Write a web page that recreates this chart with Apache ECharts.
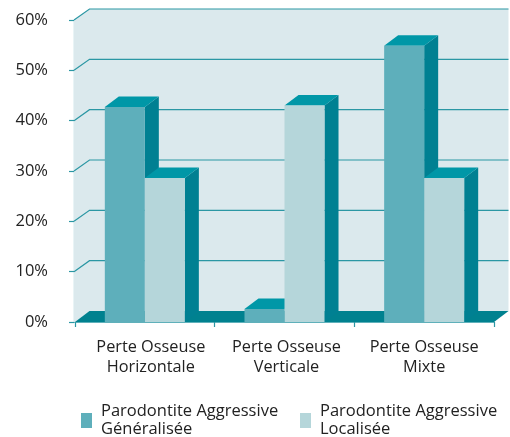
<!DOCTYPE html>
<html><head><meta charset="utf-8">
<style>html,body{margin:0;padding:0;background:#fff}#c{width:510px;height:437px}</style>
<script src="https://cdn.jsdelivr.net/npm/echarts@6/dist/echarts.min.js"></script>
</head><body><div id="c"></div>
<script>
var categories = ['Perte Osseuse\nHorizontale', 'Perte Osseuse\nVerticale', 'Perte Osseuse\nMixte'];
var seriesNames = ['Parodontite Aggressive\nGénéralisée', 'Parodontite Aggressive\nLocalisée'];
var generalisee = [42.7, 2.6, 54.9];
var localisee = [28.6, 43, 28.6];
var yTicks = [0, 10, 20, 30, 40, 50, 60];

var FONT = '"Open Sans","Noto Sans",sans-serif';
var TXT = '#222222';
var LINE = '#2b97a4';
var DX = 14, DY = 10.5;      // bar depth
var WX = 14.5, WY = 11;      // wall depth
var BAR = 0.2865;            // bar width as a share of the category band
var labelPad = [12, 4, 0];   // nudges the category labels to the right

function wallRender(params, api) {
  var g = params.coordSys;
  var v = api.value(1);
  var y = api.coord([0, v])[1];
  var l = g.x - 1, r = g.x + g.width;
  var kids = [];
  if (params.dataIndex === 0) {
    var top = g.y, bot = g.y + g.height;
    kids.push({type:'polygon', shape:{points:[[l,top],[l+WX+1,top-WY],[r+WX,top-WY],[r+WX,bot-WY],[r,bot],[l,bot]]},
      style:{fill:'#dbe9ed'}});
    kids.push({type:'polygon', shape:{points:[[l+1,bot],[l+WX+1,bot-WY],[r+WX,bot-WY],[r,bot]]},
      style:{fill:'#00818f'}});
  } else {
    kids.push({type:'polyline', shape:{points:[[l,y],[l+WX+1,y-WY],[r+WX,y-WY]]},
      style:{fill:null, stroke:LINE, lineWidth:1.2}});
  }
  return {type:'group', children:kids};
}

function barRender(slot, front) {
  return function (params, api) {
    var c = api.value(0), v = api.value(1);
    var base = api.coord([c, 0]);
    var top = api.coord([c, v]);
    var w = api.size([1, 0])[0] * BAR;
    var x0 = base[0] + (slot === 0 ? -w : 0);
    var x1 = x0 + w;
    var yt = top[1], yb = base[1];
    return {type:'group', children:[
      {type:'polygon', shape:{points:[[x1,yb],[x1+DX,yb-DY],[x1+DX,yt-DY],[x1,yt]]}, style:{fill:'#008092'}},
      {type:'polygon', shape:{points:[[x0,yt],[x0+DX,yt-DY],[x1+DX,yt-DY],[x1,yt]]}, style:{fill:'#0097a7'}},
      {type:'rect', shape:{x:x0, y:yt, width:w, height:yb-yt}, style:{fill:front}}
    ]};
  };
}

function pairs(arr) { return arr.map(function (v, i) { return [i, v]; }); }

var chart = echarts.init(document.getElementById('c'), null, {renderer:'canvas'});
chart.setOption({
  animation:false,
  backgroundColor:'#ffffff',
  textStyle:{fontFamily:FONT},
  grid:{left:75, right:16, top:20, bottom:115, containLabel:false},
  xAxis:{type:'category',
    data:categories.map(function (c, i) { return {value:c, textStyle:{padding:[0,0,0,labelPad[i]]}}; }),
    axisLine:{lineStyle:{color:LINE, width:1.5}},
    axisTick:{show:true, length:5, lineStyle:{color:LINE, width:1.2}},
    axisLabel:{color:TXT, fontSize:16.3, fontFamily:FONT, lineHeight:20, margin:15, interval:0}},
  yAxis:{type:'value', min:0, max:60, interval:10, offset:1,
    axisLine:{show:true, lineStyle:{color:LINE, width:1.2}},
    axisTick:{show:true, length:5, lineStyle:{color:LINE, width:1.2}},
    splitLine:{show:false},
    axisLabel:{color:TXT, fontSize:16.5, fontFamily:FONT, margin:26, padding:[2,0,0,0], formatter:'{value}%'}},
  legend:[
    {left:76, top:397, itemWidth:11, itemHeight:15, icon:'rect', selectedMode:false, data:[seriesNames[0]],
      itemGap:0, textStyle:{color:TXT, fontSize:16.5, fontFamily:FONT, lineHeight:18.5, padding:[0,0,0,4]}},
    {left:295, top:397, itemWidth:11, itemHeight:15, icon:'rect', selectedMode:false, data:[seriesNames[1]],
      itemGap:0, textStyle:{color:TXT, fontSize:16.5, fontFamily:FONT, lineHeight:18.5, padding:[0,0,0,4]}}
  ],
  series:[
    {type:'custom', name:'walls', silent:true, z:1, renderItem:wallRender,
      data:yTicks.map(function (t) { return [0, t]; }), encode:{x:0, y:1}},
    {type:'custom', name:seriesNames[0], z:2, renderItem:barRender(0, '#5eafbb'),
      itemStyle:{color:'#5eafbb'}, data:pairs(generalisee), encode:{x:0, y:1}},
    {type:'custom', name:seriesNames[1], z:3, renderItem:barRender(1, '#b5d6da'),
      itemStyle:{color:'#b5d6da'}, data:pairs(localisee), encode:{x:0, y:1}}
  ]
});
</script></body></html>
